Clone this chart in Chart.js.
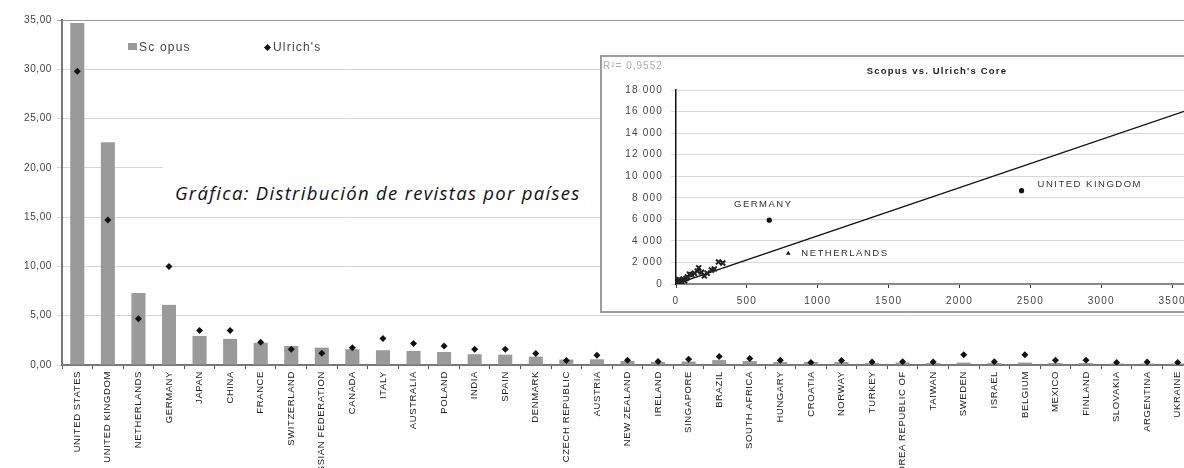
<!DOCTYPE html>
<html lang="es">
<head>
<meta charset="utf-8">
<title>Distribución de revistas por países</title>
<script src="https://cdn.jsdelivr.net/npm/chart.js@4.4.1/dist/chart.umd.min.js"></script>
<style>
  html, body { margin: 0; padding: 0; background: #fff; width: 1184px; height: 468px; overflow: hidden; }
  body { position: relative; font-family: "Liberation Sans", Arial, sans-serif; }
  #cajaPrincipal { position: absolute; left: 0; top: 0; width: 1200px; height: 468px; }
  .leyenda { position: absolute; top: 40px; font-size: 12px; color: #444; letter-spacing: 1.2px; white-space: nowrap; }
  .leyenda .cuadro { display: inline-block; width: 9px; height: 7px; background: #9a9a9a; margin-right: 2px; vertical-align: 1px; }
  .leyenda .rombo { display: inline-block; width: 5px; height: 5px; background: #111; transform: rotate(45deg); margin-right: 3px; vertical-align: 1px; }
  #rotulo { position: absolute; left: 163px; top: 160px; width: 440px; height: 52px; background: #fff;
            font-family: "Open Sans", Lato, sans-serif; font-style: italic; font-size: 18.5px; color: #111;
            letter-spacing: 1.3px; padding: 24px 0 0 12px; box-sizing: border-box; white-space: nowrap; line-height: 1; }
  #marco { position: absolute; left: 600px; top: 55px; width: 700px; height: 258px; border: 2px solid #9c9c9c; border-right: none; background: #fff; box-sizing: border-box; }
  #cajaCore { position: absolute; left: 602px; top: 57px; width: 670px; height: 254px; }
  #r2 { position: absolute; left: 603px; top: 60px; font-size: 10px; color: #aaa; letter-spacing: 1px; }
  #tituloCore { position: absolute; left: 602px; top: 65px; width: 670px; text-align: center; font-size: 9.5px; font-weight: bold; color: #222; letter-spacing: 1.2px; }
</style>
</head>
<body>
<div id="cajaPrincipal"><canvas id="graficoPaises"></canvas></div>
<div class="leyenda" style="left:128px"><span class="cuadro"></span>Sc opus</div>
<div class="leyenda" style="left:265px"><span class="rombo"></span>Ulrich's</div>
<div id="rotulo">Gráfica: Distribución de revistas por países</div>
<div id="marco"></div>
<div id="cajaCore"><canvas id="graficoCore"></canvas></div>
<div id="r2">R²= 0,9552</div>
<div id="tituloCore">Scopus vs. Ulrich's Core</div>

<script>
// ---- datos del gráfico principal (% de revistas por país) ----
const paises = ['UNITED STATES', 'UNITED KINGDOM', 'NETHERLANDS', 'GERMANY', 'JAPAN', 'CHINA', 'FRANCE',
  'SWITZERLAND', 'RUSSIAN FEDERATION', 'CANADA', 'ITALY', 'AUSTRALIA', 'POLAND', 'INDIA', 'SPAIN',
  'DENMARK', 'CZECH REPUBLIC', 'AUSTRIA', 'NEW ZEALAND', 'IRELAND', 'SINGAPORE', 'BRAZIL',
  'SOUTH AFRICA', 'HUNGARY', 'CROATIA', 'NORWAY', 'TURKEY', 'KOREA REPUBLIC OF', 'TAIWAN', 'SWEDEN',
  'ISRAEL', 'BELGIUM', 'MEXICO', 'FINLAND', 'SLOVAKIA', 'ARGENTINA', 'UKRAINE'];
const scopus = [34.7, 22.6, 7.3, 6.1, 2.95, 2.65, 2.26, 1.93, 1.76, 1.6, 1.5, 1.42, 1.32, 1.09, 1.05,
  0.85, 0.55, 0.58, 0.4, 0.3, 0.35, 0.5, 0.4, 0.3, 0.3, 0.3, 0.2, 0.25, 0.2, 0.25,
  0.2, 0.25, 0.2, 0.2, 0.15, 0.15, 0.15];
const ulrichs = [29.8, 14.7, 4.7, 10.0, 3.5, 3.5, 2.3, 1.6, 1.2, 1.76, 2.7, 2.17, 1.93, 1.6, 1.6,
  1.16, 0.45, 1.0, 0.48, 0.35, 0.58, 0.85, 0.65, 0.48, 0.25, 0.45, 0.3, 0.33, 0.3, 1.05,
  0.33, 1.05, 0.48, 0.48, 0.25, 0.3, 0.25];
const maxEjeY = 35;
const pasoEjeY = 5;

// ---- datos del recuadro Scopus vs. Ulrich's Core ----
const nubeScopus = [5, 10, 15, 20, 25, 30, 40, 50, 60, 70, 80, 95, 110, 130, 150, 160, 180, 200, 220, 250, 270, 300, 330];
const nubeUlrich = [100, 300, 150, 400, 250, 350, 200, 450, 300, 500, 650, 900, 850, 1000, 1200, 1500, 1100, 750, 1000, 1300, 1400, 2050, 1950];
const destacados = ['GERMANY', 'NETHERLANDS', 'UNITED KINGDOM'];
const destacadosScopus = [658, 792, 2438];
const destacadosUlrich = [5925, 2840, 8660];
const tendenciaScopus = [0, 4000];
const tendenciaUlrich = [0, 17880];

const fuente = "'Liberation Sans', Arial, sans-serif";

// espaciado de letras como en el original escaneado
function espaciado(valor) {
  return { id: 'espaciado', beforeDraw(chart) { chart.ctx.letterSpacing = valor; } };
}

function coma(v) { return v.toFixed(2).replace('.', ','); }
function miles(v) { return v >= 1000 ? String(v).replace(/\B(?=(\d{3})+(?!\d))/g, ' ') : String(v); }

document.addEventListener('DOMContentLoaded', () => {
  inicializarGraficoPaises();
  inicializarGraficoCore();
});

function inicializarGraficoPaises() {
  const ctx = document.getElementById('graficoPaises');
  if (!ctx) return;

  new Chart(ctx.getContext('2d'), {
    data: {
      labels: paises,
      datasets: [{
        type: 'line',
        label: "Ulrich's",
        data: ulrichs,
        showLine: false,
        pointStyle: 'rectRot',
        pointRadius: 3.5,
        pointBackgroundColor: '#111',
        pointBorderColor: '#111',
        pointBorderWidth: 0,
        order: 0
      }, {
        type: 'bar',
        label: 'Scopus',
        data: scopus,
        backgroundColor: '#9a9a9a',
        barPercentage: 0.46,
        categoryPercentage: 1,
        order: 1
      }]
    },
    options: {
      responsive: true,
      maintainAspectRatio: false,
      animation: false,
      layout: { padding: { top: 20, right: 7, left: 0, bottom: 0 } },
      plugins: { legend: { display: false }, tooltip: { enabled: false } },
      scales: {
        x: {
          grid: { drawOnChartArea: false, color: '#555', tickLength: 4, lineWidth: 1 },
          border: { color: '#777', width: 2 },
          ticks: { autoSkip: false, minRotation: 90, maxRotation: 90, padding: 2,
                   font: { size: 9.5, family: fuente }, color: '#222' },
          afterFit(scale) { scale.height = 103; }
        },
        y: {
          min: 0, max: maxEjeY,
          ticks: { stepSize: pasoEjeY, callback: v => coma(v), padding: 5,
                   font: { size: 10, family: fuente }, color: '#444' },
          grid: { color: ctx => ctx.tick.value === maxEjeY ? '#999' : '#d6d6d6', tickLength: 5, lineWidth: 1 },
          border: { color: '#777', width: 2 },
          afterFit(scale) { scale.width = 62; }
        }
      }
    },
    plugins: [espaciado('0.6px')]
  });
}

// nombres de los países destacados junto a su punto
const etiquetasPuntos = {
  id: 'etiquetasPuntos',
  afterDatasetsDraw(chart) {
    const meta = chart.getDatasetMeta(1);
    const c = chart.ctx;
    c.save();
    c.letterSpacing = '1.5px';
    c.font = "9.5px " + fuente;
    c.fillStyle = '#333';
    c.textBaseline = 'middle';
    meta.data.forEach((p, i) => {
      const nombre = destacados[i];
      if (nombre === 'GERMANY') { c.textAlign = 'center'; c.fillText(nombre, p.x - 6, p.y - 16); }
      else if (nombre === 'NETHERLANDS') { c.textAlign = 'left'; c.fillText(nombre, p.x + 13, p.y); }
      else { c.textAlign = 'left'; c.fillText(nombre, p.x + 16, p.y - 6); }
    });
    c.restore();
  }
};

function inicializarGraficoCore() {
  const ctx = document.getElementById('graficoCore');
  if (!ctx) return;

  const nube = nubeScopus.map((x, i) => ({ x, y: nubeUlrich[i] }));
  const puntos = destacadosScopus.map((x, i) => ({ x, y: destacadosUlrich[i] }));
  const tendencia = tendenciaScopus.map((x, i) => ({ x, y: tendenciaUlrich[i] }));

  new Chart(ctx.getContext('2d'), {
    type: 'scatter',
    data: {
      datasets: [{
        label: 'Países',
        data: nube,
        pointStyle: 'crossRot',
        pointRadius: 3.5,
        borderColor: '#222',
        borderWidth: 2,
        backgroundColor: '#222'
      }, {
        label: 'Destacados',
        data: puntos,
        pointStyle: ['circle', 'triangle', 'circle'],
        pointRadius: 2.6,
        backgroundColor: '#111',
        borderColor: '#111',
        borderWidth: 0
      }, {
        type: 'line',
        label: 'Tendencia',
        data: tendencia,
        borderColor: '#111',
        borderWidth: 1.3,
        pointRadius: 0,
        fill: false
      }]
    },
    options: {
      responsive: true,
      maintainAspectRatio: false,
      animation: false,
      layout: { padding: { top: 33, right: 29, left: 0, bottom: 0 } },
      plugins: { legend: { display: false }, tooltip: { enabled: false } },
      scales: {
        x: {
          type: 'linear', min: 0, max: 4000,
          ticks: { stepSize: 500, padding: 7, callback: v => String(v), font: { size: 10, family: fuente }, color: '#444' },
          grid: { drawOnChartArea: false, color: '#333', tickLength: 4 },
          border: { color: '#888', width: 2 },
          afterFit(scale) { scale.height = 27; }
        },
        y: {
          min: 0, max: 18000,
          ticks: { stepSize: 2000, padding: 8, callback: v => miles(v), font: { size: 10, family: fuente }, color: '#444' },
          grid: { color: '#d9d9d9', tickLength: 5 },
          border: { color: '#111', width: 1.5 },
          afterFit(scale) { scale.width = 74; }
        }
      }
    },
    plugins: [espaciado('1.2px'), etiquetasPuntos]
  });
}
</script>
</body>
</html>
